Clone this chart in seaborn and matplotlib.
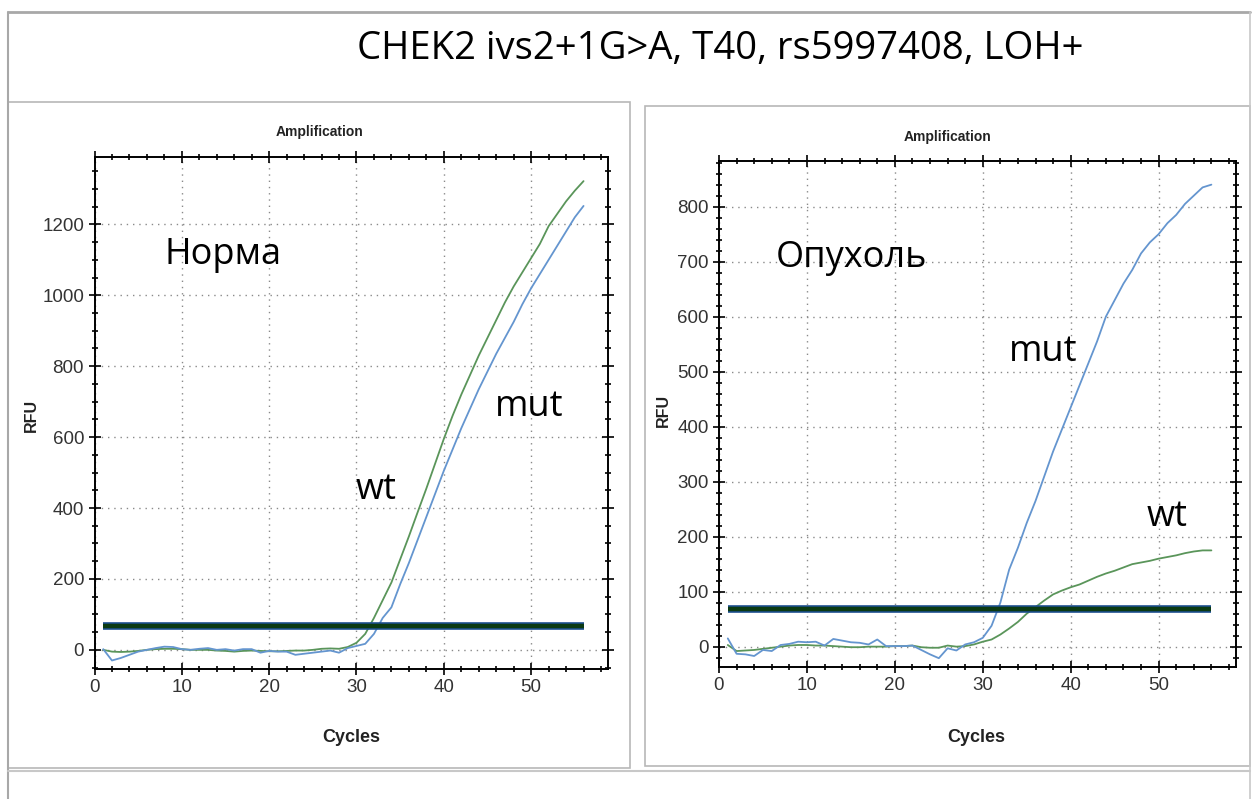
import numpy as np
import pandas as pd
import matplotlib
matplotlib.use("Agg")
import matplotlib.pyplot as plt
import matplotlib.font_manager as fm
from matplotlib.patches import Rectangle
from matplotlib.lines import Line2D
from matplotlib.ticker import MultipleLocator
import seaborn as sns

# ---------------- data ----------------
cycles = list(range(1, 57))

norm_wt = [0, -5, -6, -5, -3, 0, 2, 3, 3, 2, 0, 0, 0, -2, -3, -5, -3, -2, -3, -4,
           -4, -3, -2, -2, 0, 3, 4, 3,
           8, 20, 45, 90, 140, 190, 255, 320, 388, 455, 525, 595, 660, 720, 775,
           830, 880, 930, 980, 1025, 1065, 1105, 1145, 1195, 1230, 1265, 1295, 1322]
norm_mut = [2, -30, -23, -14, -5, 0, 5, 9, 8, 2, 0, 3, 5, 0, 2, -2, 2, 2, -8, -3,
            -5, -5, -14, -11, -8, -5, -2, -8, 5, 11, 17,
            45, 90, 120, 185, 245, 310, 375, 440, 505, 565, 625, 680, 735, 785, 835,
            880, 925, 975, 1020, 1060, 1100, 1140, 1180, 1220, 1252]

tumor_wt = [3, -8, -7, -6, -4, -2, 0, 2, 3, 3, 2, 2, 1, 0, -1, -1, 0, 0, 0, 1,
            1, 2, -1, -2, -2, 2, 0, 1, 4, 9,
            13, 22, 33, 45, 60, 72, 84, 95, 102, 108, 113, 120, 127, 133, 138,
            144, 150, 153, 156, 160, 163, 166, 170, 173, 175, 175]
tumor_mut = [15, -13, -14, -17, -6, -8, 3, 5, 9, 8, 9, 2, 14, 11, 8, 7, 4, 13, 1, 1,
             1, 2, -6, -14, -21, -3, -7, 4, 8, 16,
             38, 80, 140, 180, 225, 265, 310, 355, 395, 435, 475, 515, 555, 600, 630,
             660, 685, 715, 735, 750, 770, 785, 805, 820, 835, 840]

threshold_norm = 68
threshold_tumor = 69
threshold_span = [1, 56]

series_names = ["wt", "mut"]
main_title = "CHEK2 ivs2+1G>A, T40, rs5997408, LOH+"
panel_title = "Amplification"
panel_labels = ["Норма", "Опухоль"]
x_label = "Cycles"
y_label = "RFU"

# ---------------- style ----------------
sns.set_theme(style="white")
names = {f.name for f in fm.fontManager.ttflist}
NARROW = "Liberation Sans" if "Liberation Sans" in names else "DejaVu Sans"
TXT = ["Open Sans", "DejaVu Sans"]
plt.rcParams["font.family"] = ["DejaVu Sans"]

W, H = 1258, 799
fig = plt.figure(figsize=(W / 100, H / 100), dpi=100)
fig.patch.set_facecolor("white")

def fx(x):
    return x / W

def fy(y):
    return 1 - y / H

GRAY = "#b8b8b8"
# outer slide frame
fig.add_artist(Line2D([fx(8), fx(1250)], [fy(12), fy(12)], color="#a8a8a8", lw=2.0))
fig.add_artist(Line2D([fx(8), fx(8)], [fy(12), fy(799)], color="#a8a8a8", lw=1.5))
fig.add_artist(Line2D([fx(1250), fx(1250)], [fy(12), fy(799)], color="#c8c8c8", lw=1.2))
fig.add_artist(Line2D([fx(8), fx(1250)], [fy(771), fy(771)], color="#c8c8c8", lw=1.5))
# panel boxes
fig.add_artist(Rectangle((fx(8), fy(768)), fx(630) - fx(8), fy(102) - fy(768),
                         transform=fig.transFigure, fill=False, edgecolor=GRAY, lw=1.2))
fig.add_artist(Rectangle((fx(645), fy(766)), fx(1250) - fx(645), fy(106) - fy(766),
                         transform=fig.transFigure, fill=False, edgecolor=GRAY, lw=1.2))

fig.text(fx(720), fy(49), main_title, ha="center", va="center", fontsize=27.5,
         family=TXT, color="black")

BLUE = "#6495cf"
GREEN = "#5a955a"
palette = {"wt": GREEN, "mut": BLUE}

def make_panel(rect, wt, mut, thr, ylim, ymaj, ymin):
    ax = fig.add_axes(rect)
    df = pd.DataFrame({
        "Cycle": cycles * 2,
        "RFU": wt + mut,
        "Target": [series_names[0]] * len(cycles) + [series_names[1]] * len(cycles),
    })
    sns.lineplot(data=df, x="Cycle", y="RFU", hue="Target", palette=palette,
                 linewidth=1.3, legend=False, ax=ax, zorder=3)
    tdf = pd.DataFrame({"Cycle": threshold_span, "RFU": [thr, thr]})
    sns.lineplot(data=tdf, x="Cycle", y="RFU", color="#1d4f8f", linewidth=5.5,
                 ax=ax, zorder=4, solid_capstyle="butt")
    sns.lineplot(data=tdf, x="Cycle", y="RFU", color="#0b3a12", linewidth=3.2,
                 ax=ax, zorder=5, solid_capstyle="butt")
    ax.set_xlim(0, 58.8)
    ax.set_ylim(*ylim)
    ax.xaxis.set_major_locator(MultipleLocator(10))
    ax.xaxis.set_minor_locator(MultipleLocator(2))
    ax.yaxis.set_major_locator(MultipleLocator(ymaj))
    ax.yaxis.set_minor_locator(MultipleLocator(ymin))
    ax.tick_params(which="both", direction="inout", top=True, right=True,
                   bottom=True, left=True, color="black", width=1.2)
    ax.tick_params(which="major", length=9, labelsize=13.5, labelcolor="#333333", pad=3)
    ax.tick_params(which="minor", length=5)
    for lab in ax.get_xticklabels() + ax.get_yticklabels():
        lab.set_family(NARROW)
    ax.grid(True, which="major", linestyle=(0, (1, 3.5)), color="#8a8a8a", lw=1.0)
    ax.set_axisbelow(True)
    for s in ax.spines.values():
        s.set_color("black")
        s.set_linewidth(1.4)
    ax.set_xlabel("")
    ax.set_ylabel("")
    return ax

ax1 = make_panel([fx(94.5), fy(669), fx(608) - fx(94.5), fy(157) - fy(669)],
                 norm_wt, norm_mut, threshold_norm, (-54, 1390), 200, 50)
ax2 = make_panel([fx(719), fy(667), fx(1236) - fx(719), fy(161) - fy(667)],
                 tumor_wt, tumor_mut, threshold_tumor, (-37, 883), 100, 20)

# panel titles & axis labels
for (tx, ty), (rx, ry), (cx, cy) in [((320, 132), (31, 415), (351, 738)),
                                     ((948, 137), (663, 410), (976, 737))]:
    fig.text(fx(tx), fy(ty), panel_title, ha="center", va="center", fontsize=10,
             fontweight="bold", family=NARROW, color="#222222")
    fig.text(fx(rx), fy(ry), y_label, ha="center", va="center", fontsize=11.5,
             fontweight="bold", family=NARROW, rotation=90, color="#222222")
    fig.text(fx(cx), fy(cy), x_label, ha="center", va="center", fontsize=13,
             fontweight="bold", family=NARROW, color="#222222")

# in-plot annotations
kw = dict(ha="left", va="center", fontsize=26, family=TXT, color="black")
ax1.text(8.0, 1114, panel_labels[0], **kw)
ax1.text(45.9, 685, series_names[1], **kw)
ax1.text(29.9, 451, series_names[0], **kw)
ax2.text(6.4, 707, panel_labels[1], **kw)
ax2.text(33.0, 536, series_names[1], **kw)
ax2.text(48.6, 235, series_names[0], **kw)

fig.savefig("out.png", dpi=100)
